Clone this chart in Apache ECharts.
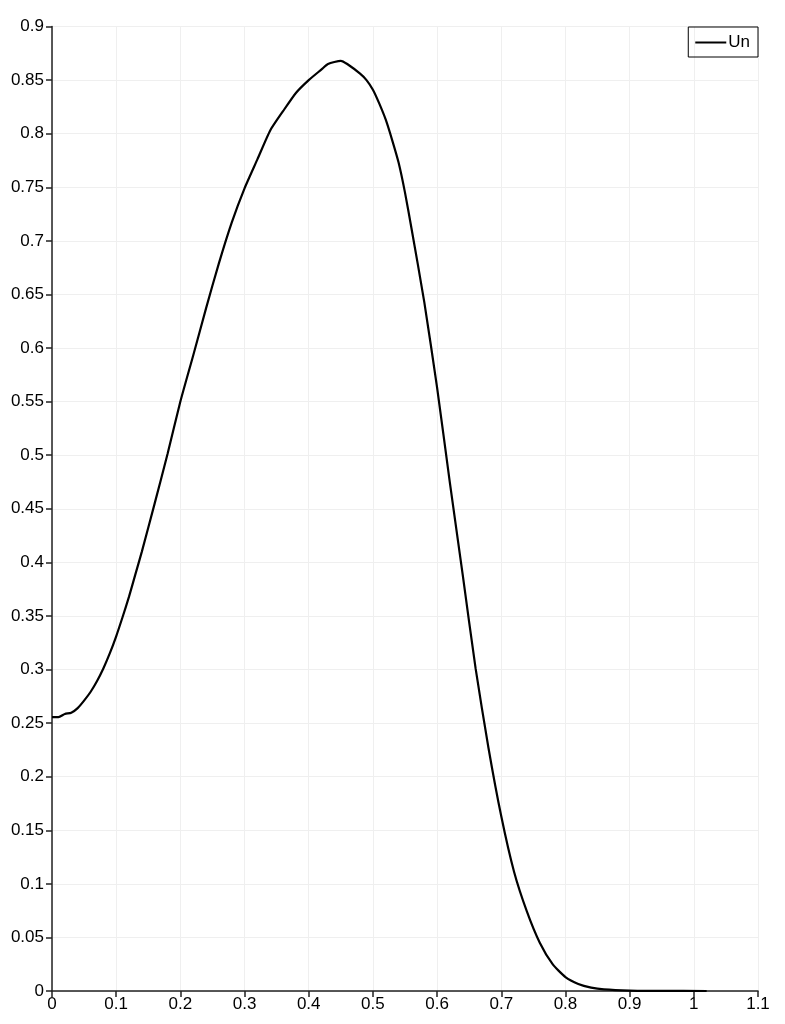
<!DOCTYPE html>
<html>
<head>
<meta charset="utf-8">
<script src="https://cdn.jsdelivr.net/npm/echarts@6/dist/echarts.min.js"></script>
<style>
  html, body { margin: 0; padding: 0; background: #fff; }
  #chart { width: 785px; height: 1024px; }
</style>
</head>
<body>
<div id="chart"></div>
<script>
// values
const xValues = [0, 0.01, 0.02, 0.03, 0.04, 0.05, 0.06, 0.07, 0.08, 0.09,
  0.10, 0.11, 0.12, 0.13, 0.14, 0.16, 0.18, 0.20, 0.22, 0.24,
  0.26, 0.28, 0.30, 0.32, 0.34, 0.36, 0.38, 0.40, 0.42, 0.43,
  0.45, 0.46, 0.48, 0.49, 0.50, 0.51, 0.52, 0.53, 0.54, 0.55,
  0.56, 0.58, 0.60, 0.62, 0.64, 0.66, 0.68, 0.70, 0.72, 0.74,
  0.76, 0.78, 0.80, 0.82, 0.84, 0.86, 0.90, 0.95, 1.02];
const unValues = [0.2555, 0.2555, 0.2585, 0.2597, 0.264, 0.271, 0.279, 0.289, 0.301, 0.315,
  0.331, 0.349, 0.368, 0.389, 0.410, 0.455, 0.501, 0.550, 0.593, 0.637,
  0.679, 0.717, 0.749, 0.776, 0.803, 0.821, 0.838, 0.850, 0.860, 0.865,
  0.868, 0.865, 0.856, 0.850, 0.841, 0.828, 0.813, 0.794, 0.773, 0.745,
  0.712, 0.643, 0.563, 0.474, 0.388, 0.301, 0.227, 0.163, 0.111, 0.074,
  0.045, 0.025, 0.013, 0.0066, 0.0032, 0.0015, 0.0004, 0.0001, 0];
const seriesName = 'Un';

const points = xValues.map((x, i) => [x, unValues[i]]);

const labelFont = { color: '#000', fontSize: 17, fontFamily: 'Liberation Sans' };

let myChart = echarts.init(document.getElementById('chart'), null, { renderer: 'canvas' });
myChart.setOption({
  animation: false,
  backgroundColor: '#fff',
  grid: { left: 52, right: 27, top: 26.5, bottom: 33, containLabel: false },
  legend: {
    right: 27,
    top: 27,
    orient: 'vertical',
    padding: [7, 8, 6, 7],
    itemWidth: 31,
    itemHeight: 2,
    icon: 'rect',
    itemGap: 0,
    borderColor: '#000',
    borderWidth: 1,
    borderRadius: 0,
    textStyle: { color: '#000', fontSize: 17, fontFamily: 'Liberation Sans', padding: [0, 0, 0, -3] },
    data: [seriesName]
  },
  xAxis: {
    type: 'value',
    min: 0,
    max: 1.1,
    interval: 0.1,
    axisLine: { show: true, onZero: false, lineStyle: { color: '#222', width: 1.5 } },
    axisTick: { show: true, inside: false, length: 6, lineStyle: { color: '#222', width: 1.5 } },
    axisLabel: Object.assign({ margin: 5, formatter: v => +v.toFixed(2) + '' }, labelFont),
    splitLine: { show: true, lineStyle: { color: '#efefef', width: 1 } }
  },
  yAxis: {
    type: 'value',
    min: 0,
    max: 0.9,
    interval: 0.05,
    axisLine: { show: true, onZero: false, lineStyle: { color: '#222', width: 1.5 } },
    axisTick: { show: true, inside: false, length: 6, lineStyle: { color: '#222', width: 1.5 } },
    axisLabel: Object.assign({ margin: 8, formatter: v => +v.toFixed(2) + '' }, labelFont),
    splitLine: { show: true, lineStyle: { color: '#efefef', width: 1 } }
  },
  series: [
    {
      name: seriesName,
      type: 'line',
      symbol: 'none',
      smooth: 0.2,
      lineStyle: { color: '#000', width: 2.2 },
      itemStyle: { color: '#000' },
      data: points
    }
  ]
});
</script>
</body>
</html>
